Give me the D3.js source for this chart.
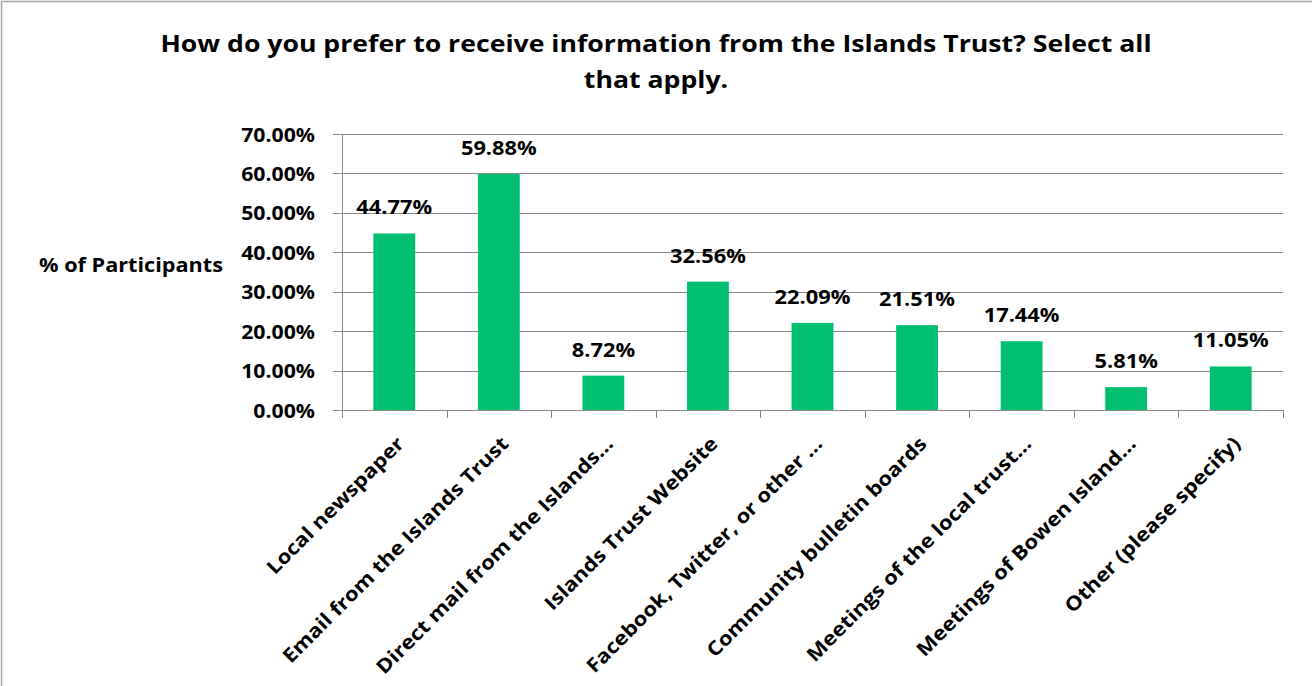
<!DOCTYPE html>
<html>
<head>
<meta charset="utf-8">
<script src="https://cdn.jsdelivr.net/npm/d3@7"></script>
<style>
  html, body { margin: 0; padding: 0; background: #fff; }
  svg text { font-family: "Open Sans", "Lato", sans-serif; font-weight: bold; fill: #000; }
</style>
</head>
<body>
<svg id="chart" width="1312" height="686"></svg>
<script>
const categories = [
  "Local newspaper",
  "Email from the Islands Trust",
  "Direct mail from the Islands…",
  "Islands Trust Website",
  "Facebook, Twitter, or other …",
  "Community bulletin boards",
  "Meetings of the local trust…",
  "Meetings of Bowen Island…",
  "Other (please specify)"
];
const values = [44.77, 59.88, 8.72, 32.56, 22.09, 21.51, 17.44, 5.81, 11.05];
const yTicks = [0, 10, 20, 30, 40, 50, 60, 70];
const titleLines = ["How do you prefer to receive information from the Islands Trust? Select all", "that apply."];
const yAxisTitle = "% of Participants";

const W = 1312, H = 686;
const svg = d3.select("#chart");
const margin = { left: 342, right: 29, top: 134, bottom: 276 };

// horizontal stretch of glyphs along the text direction (reference text is wide)
function stretch(sel, k) {
  sel.each(function () {
    const len = this.getComputedTextLength();
    d3.select(this).attr("textLength", len * k).attr("lengthAdjust", "spacingAndGlyphs");
  });
}

svg.append("rect")
  .attr("x", 1.5).attr("y", 1.5)
  .attr("width", W + 10).attr("height", H + 10)
  .attr("fill", "#fff").attr("stroke", "#a6a6a6").attr("stroke-width", 1.5);

const x = d3.scaleBand()
  .domain(categories)
  .range([margin.left, W - margin.right])
  .paddingInner(0.6)
  .paddingOuter(0.3);

const y = d3.scaleLinear()
  .domain([0, 70])
  .range([H - margin.bottom, margin.top]);

// gridlines
svg.append("g")
  .selectAll("line")
  .data(yTicks)
  .join("line")
  .attr("x1", margin.left - 9)
  .attr("x2", W - margin.right)
  .attr("y1", d => Math.round(y(d)) + 0.5)
  .attr("y2", d => Math.round(y(d)) + 0.5)
  .attr("stroke", "#888")
  .attr("stroke-width", 1);

// y axis line
svg.append("line")
  .attr("x1", margin.left + 0.5).attr("x2", margin.left + 0.5)
  .attr("y1", y(70)).attr("y2", y(0) + 8)
  .attr("stroke", "#888");

// y tick labels
const yAxis = d3.axisLeft(y)
  .tickValues(yTicks)
  .tickFormat(d => d.toFixed(2) + "%")
  .tickSize(0)
  .tickPadding(27);
const yg = svg.append("g").attr("transform", `translate(${margin.left},0)`).call(yAxis);
yg.select(".domain").remove();
yg.selectAll("text").style("font-size", "19.5px").attr("dy", "0.36em")
  .style("font-family", "'Open Sans', sans-serif").style("font-weight", "bold")
  .call(stretch, 1.09);

// x axis baseline + ticks at band boundaries
const step = x.step();
const bounds = d3.range(categories.length + 1).map(i => margin.left + i * step);
svg.append("line")
  .attr("x1", margin.left).attr("x2", W - margin.right)
  .attr("y1", Math.round(y(0)) + 0.5).attr("y2", Math.round(y(0)) + 0.5)
  .attr("stroke", "#888");
svg.append("g").selectAll("line")
  .data(bounds)
  .join("line")
  .attr("x1", d => Math.round(d) + 0.5).attr("x2", d => Math.round(d) + 0.5)
  .attr("y1", y(0)).attr("y2", y(0) + 8)
  .attr("stroke", "#888");

// bars
svg.append("g").selectAll("rect")
  .data(values)
  .join("rect")
  .attr("x", (d, i) => x(categories[i]))
  .attr("width", x.bandwidth())
  .attr("y", d => y(d))
  .attr("height", d => y(0) - y(d))
  .attr("fill", "#00bf6f");

// value labels
svg.append("g").selectAll("text")
  .data(values)
  .join("text")
  .attr("x", (d, i) => x(categories[i]) + x.bandwidth() / 2)
  .attr("y", d => y(d) - 19)
  .attr("text-anchor", "middle")
  .style("font-size", "19.5px")
  .text(d => d.toFixed(2) + "%")
  .call(stretch, 1.12);

// category labels
svg.append("g").selectAll("text")
  .data(categories)
  .join("text")
  .attr("transform", d => `translate(${x(d) + x.bandwidth() / 2 + 11},${y(0) + 35}) rotate(-45)`)
  .attr("text-anchor", "end")
  .style("font-size", "19.5px")
  .text(d => d)
  .call(stretch, 1.13);

// title
svg.append("g").selectAll("text")
  .data(titleLines)
  .join("text")
  .attr("x", W / 2)
  .attr("y", (d, i) => 52 + i * 36)
  .attr("text-anchor", "middle")
  .style("font-size", "24px")
  .text(d => d)
  .call(stretch, 1.11);

// y axis title
svg.append("text")
  .attr("x", 131)
  .attr("y", 272)
  .attr("text-anchor", "middle")
  .style("font-size", "19.5px")
  .text(yAxisTitle)
  .call(stretch, 1.11);
</script>
</body>
</html>
